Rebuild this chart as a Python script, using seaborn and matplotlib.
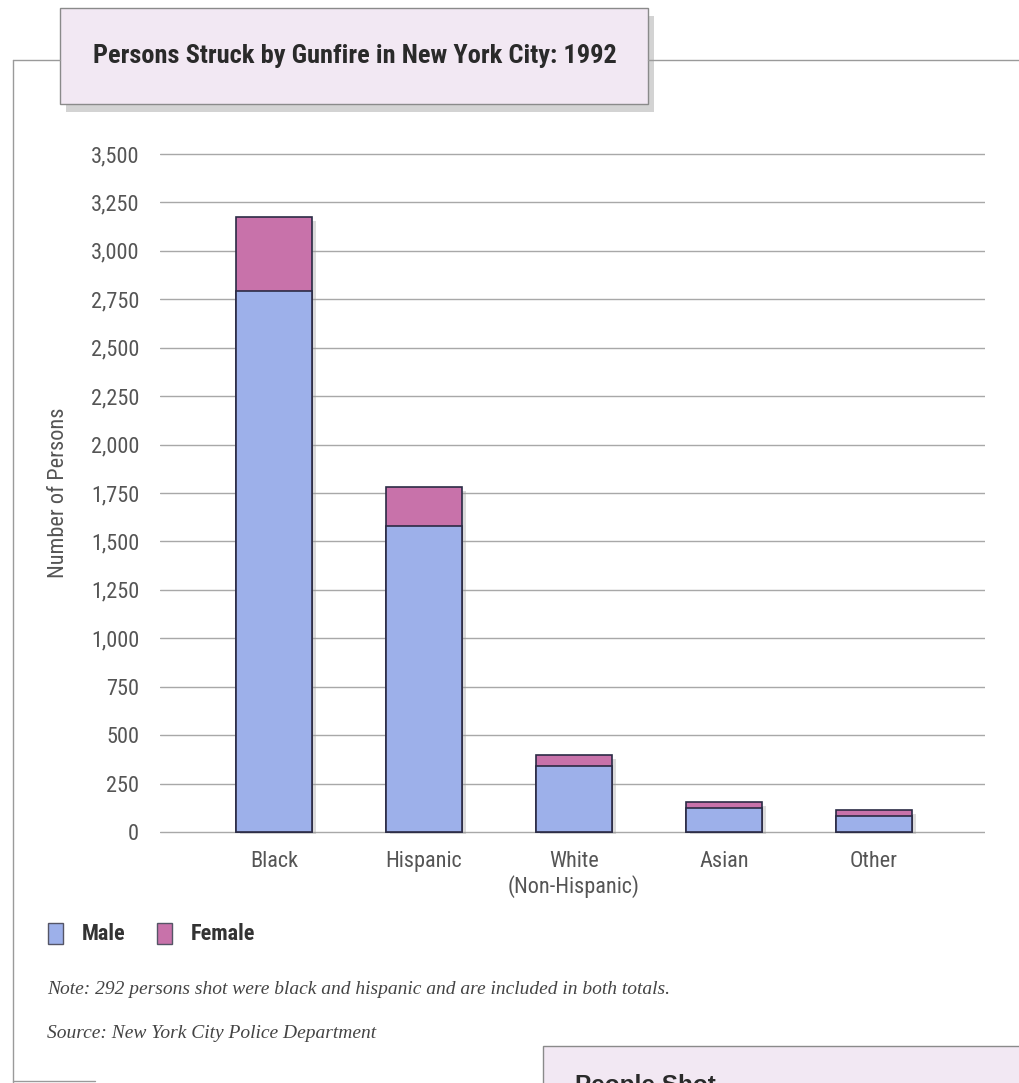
import matplotlib
matplotlib.use("Agg")
import matplotlib.pyplot as plt
import matplotlib.patheffects as pe
from matplotlib import font_manager
from matplotlib.patches import Rectangle
import pandas as pd
import seaborn as sns

# Data: persons struck by gunfire, NYC 1992
categories = ["Black", "Hispanic", "White\n(Non-Hispanic)", "Asian", "Other"]
male = [2795, 1580, 340, 125, 83]
female = [380, 200, 57, 30, 32]
y_ticks = [0, 250, 500, 750, 1000, 1250, 1500, 1750, 2000, 2250, 2500, 2750, 3000, 3250, 3500]

MALE_C = "#9db0ea"
FEMALE_C = "#c872aa"
EDGE_C = "#2b2b45"
BOX_C = "#f2e8f3"
GRID_C = "#a8a8a8"
TEXT_C = "#555555"

# prefer a condensed sans if one is available
available = {f.name for f in font_manager.fontManager.ttflist}
narrow = next((n for n in ["Liberation Sans Narrow", "Roboto Condensed", "Open Sans Condensed",
                           "DejaVu Sans Condensed", "Roboto"] if n in available), "DejaVu Sans")
is_cond = narrow != "Roboto"

sns.set_theme(style="white")
plt.rcParams["font.family"] = [narrow, "DejaVu Sans"]
if narrow == "DejaVu Sans Condensed":
    plt.rcParams["font.stretch"] = "condensed"

df = pd.DataFrame({"group": categories, "male": male, "female": female})
df["total"] = df["male"] + df["female"]

W, H = 1020, 1083
fig = plt.figure(figsize=(W / 100, H / 100), dpi=100)
fig.patch.set_facecolor("white")

pad_px = 10 * 678 / 3500
ax = fig.add_axes([160 / W, 1 - (832 + pad_px) / H, (985 - 160) / W, (678 + 2 * pad_px) / H])
shadow = [pe.SimplePatchShadow(offset=(3, -3), shadow_rgbFace="#999999", alpha=0.35), pe.Normal()]

sns.barplot(data=df, x="group", y="total", color=FEMALE_C, saturation=1,
            width=0.51, edgecolor=EDGE_C, linewidth=1.2, ax=ax, zorder=3)
for p in ax.patches:
    p.set_path_effects(shadow)
sns.barplot(data=df, x="group", y="male", color=MALE_C, saturation=1,
            width=0.51, edgecolor=EDGE_C, linewidth=1.2, ax=ax, zorder=4)

tick_fs = 16 if is_cond else 14
ax.set_xlim(-0.76, 4.74)
ax.set_ylim(-10, 3510)
ax.set_yticks(y_ticks)
ax.set_yticklabels([f"{v:,}" for v in y_ticks])
ax.yaxis.grid(True, color=GRID_C, linewidth=1.0)
ax.set_axisbelow(True)
for s in ax.spines.values():
    s.set_visible(False)
ax.tick_params(axis="both", length=0, labelsize=tick_fs, colors=TEXT_C)
ax.tick_params(axis="y", pad=15)
ax.tick_params(axis="x", pad=12)
ax.set_xlabel("")
ax.set_ylabel("Number of Persons", fontsize=tick_fs, color=TEXT_C)
ax.yaxis.set_label_coords(-0.11, 0.5)

# page frame lines
fig.add_artist(plt.Line2D([13 / W, 13 / W], [1 - 60 / H, 0], color="#9a9a9a", lw=1.0))
fig.add_artist(plt.Line2D([13 / W, 60 / W], [1 - 60 / H, 1 - 60 / H], color="#9a9a9a", lw=1.0))
fig.add_artist(plt.Line2D([648 / W, 1.0], [1 - 60 / H, 1 - 60 / H], color="#9a9a9a", lw=1.0))

# title box with shadow
fig.add_artist(Rectangle((66 / W, 1 - 112 / H), (654 - 66) / W, (112 - 16) / H,
                         transform=fig.transFigure, facecolor="#c8c8c8", edgecolor="none", alpha=0.8))
fig.add_artist(Rectangle((60 / W, 1 - 104 / H), (648 - 60) / W, (104 - 8) / H,
                         transform=fig.transFigure, facecolor=BOX_C, edgecolor="#8a8a8a", lw=1.0))
fig.text(93 / W, 1 - 56 / H, "Persons Struck by Gunfire in New York City: 1992",
         fontsize=19 if is_cond else 16, fontweight="bold", color="#2a2a2a", va="center", ha="left")

# legend
for x0, col, lab in [(48, MALE_C, "Male"), (157, FEMALE_C, "Female")]:
    fig.add_artist(Rectangle((x0 / W, 1 - 944 / H), 15 / W, 21 / H, transform=fig.transFigure,
                             facecolor=col, edgecolor="#555566", lw=1.0))
    fig.text((x0 + 34) / W, 1 - 934 / H, lab, fontsize=tick_fs, fontweight="bold",
             color="#333333", va="center", ha="left")

# note and source
serif = ["Liberation Serif", "DejaVu Serif"]
fig.text(47 / W, 1 - 989 / H, "Note: 292 persons shot were black and hispanic and are included in both totals.",
         fontsize=14, style="italic", family=serif, color="#444444", va="center", ha="left")
fig.text(47 / W, 1 - 1034 / H, "Source: New York City Police Department",
         fontsize=14, style="italic", family=serif, color="#444444", va="center", ha="left")

# next panel header, running off the page
fig.add_artist(Rectangle((543 / W, 1 - 1100 / H), (1030 - 543) / W, (1100 - 1046) / H,
                         transform=fig.transFigure, facecolor=BOX_C, edgecolor="#8a8a8a", lw=1.0))
fig.text(575 / W, 1 - 1074 / H, "People Shot", fontsize=17.5, fontweight="bold",
         family=["Liberation Sans", "DejaVu Sans"], color="#2a2a2a", va="top", ha="left")
fig.add_artist(plt.Line2D([13 / W, 95 / W], [1 - 1081 / H, 1 - 1081 / H], color="#9a9a9a", lw=1.0))

fig.savefig("out.png", dpi=100)
